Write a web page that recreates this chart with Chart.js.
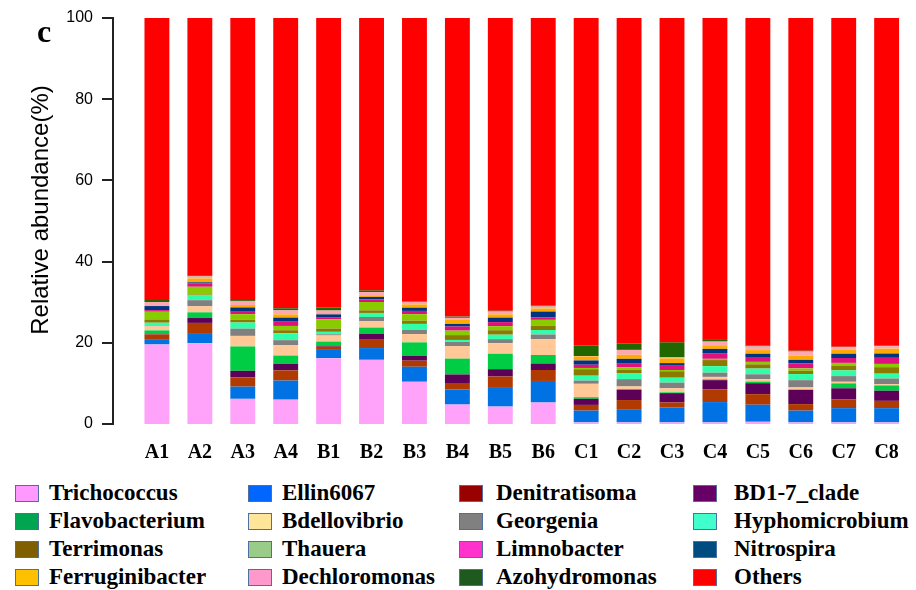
<!DOCTYPE html>
<html>
<head>
<meta charset="utf-8">
<script src="https://cdn.jsdelivr.net/npm/chart.js@4.4.1/dist/chart.umd.min.js"></script>
<style>
  html, body { margin: 0; background: #fff; overflow: hidden; }
  #wrap { position: relative; width: 916px; height: 590px; overflow: hidden; }
  #box { position: absolute; left: 0; top: 0; width: 916px; height: 470px; }
  #yaxis div { position: absolute; background: #222; }
  #panel { position: absolute; left: 37px; top: 15px; font: bold 32px/1 "Liberation Serif", serif; }
  #ytitle { position: absolute; left: 40px; top: 210px; transform: translate(-50%, -50%) rotate(-90deg);
    font: 24px/1.15 "Liberation Sans", sans-serif; white-space: nowrap; color: #000; }
  #legend { position: absolute; left: 15px; top: 479px; display: grid;
    grid-template-columns: 233px 211px 234px 200px; grid-auto-rows: 28px; }
  .item { display: flex; align-items: center; font: bold 23px "Liberation Serif", serif; color: #000; white-space: nowrap; }
  .swatch { flex: 0 0 auto; width: 22px; height: 15px; border: 1.5px solid #4f6fa0; margin-right: 10px; }
  .item:nth-child(4n+3) .swatch { margin-right: 13px; }
  .item:nth-child(4n) .swatch { margin-right: 17px; }
</style>
</head>
<body>
<div id="wrap">
  <div id="box"><canvas id="chart"></canvas><div id="yaxis"></div></div>
  <div id="panel">c</div>
  <div id="ytitle">Relative abundance(%)</div>
  <div id="legend"></div>
</div>
<script>
// samples
const samples = ['A1','A2','A3','A4','B1','B2','B3','B4','B5','B6','C1','C2','C3','C4','C5','C6','C7','C8'];

// relative abundance (%) per genus, stacked bottom to top
const trichococcus    = [19.6,19.9,6.2,6.0,16.2,15.8,10.4,4.8,4.3,5.3,0.4,0.4,0.4,0.4,0.55,0.4,0.4,0.4];
const ellin6067       = [1.3,2.5,3.0,4.7,2.05,2.9,3.7,3.7,4.8,5.3,2.9,3.1,3.7,5.0,4.2,2.9,3.5,3.5];
const denitratisoma   = [1.15,2.5,2.3,2.5,0.8,2.05,1.5,1.6,2.6,2.7,1.4,2.4,1.2,3.1,2.6,1.6,2.2,1.8];
const bd17Clade       = [0.1,1.2,1.6,1.6,0.25,1.5,1.2,2.1,1.8,1.6,1.5,2.5,2.3,2.3,2.7,3.5,2.7,2.5];
const flavobacterium  = [0.9,1.4,6.0,2.05,1.0,1.5,3.3,3.9,3.8,2.1,0.4,0.2,0.2,0.2,0.4,0.1,1.2,1.3];
const bdellovibrio    = [1.0,1.5,2.6,2.6,1.5,1.55,2.05,3.1,2.6,3.9,3.3,0.65,1.0,0.6,0.6,0.5,0.4,0.3];
const georgenia       = [0.1,1.5,1.8,1.2,0.3,1.05,1.0,1.0,1.0,1.15,0.8,1.8,1.4,1.05,1.2,1.8,1.4,1.4];
const hyphomicrobium  = [0.8,1.15,1.5,1.7,0.6,1.0,1.5,0.5,1.1,1.1,1.2,1.5,1.2,1.6,1.4,1.5,1.4,1.2];
const terrimonas      = [0.8,0.25,0.65,0.75,0.8,0.65,0.8,1.2,1.1,1.0,1.6,0.8,1.6,1.5,1.05,0.8,1.2,1.6];
const thauera         = [1.9,1.9,1.4,1.05,2.3,2.05,1.6,1.1,1.0,1.5,0.3,0.6,0.3,0.3,0.6,0.6,0.65,0.8];
const limnobacter     = [0.4,0.8,0.6,1.05,0.4,0.65,0.8,1.0,1.0,0.65,0.8,1.05,1.05,1.4,1.2,1.2,1.2,1.5];
const nitrospira      = [1.0,0.3,1.05,1.0,0.8,0.6,0.8,0.65,1.1,1.4,1.05,1.05,0.65,1.05,0.8,0.9,1.05,1.05];
const ferruginibacter = [0.2,0.95,0.6,0.8,0.3,0.4,0.8,1.0,0.8,0.75,1.0,1.0,1.15,0.9,0.9,1.0,1.0,1.2];
const dechloromonas   = [0.8,0.5,0.9,1.0,0.65,0.8,0.65,0.5,0.7,0.5,0.1,1.2,0.25,0.9,0.9,1.05,0.6,0.6];
const azohydromonas   = [0.5,0.3,0.3,0.5,0.75,0.4,0.2,0.3,0.2,0.15,2.5,1.5,3.7,0.6,0.25,0.2,0.1,0.1];
const others          = [69.45,63.35,69.5,71.5,71.3,67.1,69.7,73.55,72.1,70.9,80.75,80.25,79.9,79.1,80.65,81.95,81.0,80.75];

const yTicks = [0, 20, 40, 60, 80, 100];

// name, values, bar colour, legend colour
const series = [
  ['Trichococcus', trichococcus, '#ffa3fa', '#ff99ff'],
  ['Ellin6067', ellin6067, '#0072e3', '#0066ff'],
  ['Denitratisoma', denitratisoma, '#b03a00', '#990000'],
  ['BD1-7_clade', bd17Clade, '#5c0058', '#660066'],
  ['Flavobacterium', flavobacterium, '#00cc44', '#00a550'],
  ['Bdellovibrio', bdellovibrio, '#ffc896', '#ffe599'],
  ['Georgenia', georgenia, '#808080', '#808080'],
  ['Hyphomicrobium', hyphomicrobium, '#2effa8', '#40ffcc'],
  ['Terrimonas', terrimonas, '#8c7a00', '#7f5f00'],
  ['Thauera', thauera, '#88cc00', '#99cc88'],
  ['Limnobacter', limnobacter, '#e0107e', '#ff33cc'],
  ['Nitrospira', nitrospira, '#003380', '#004c80'],
  ['Ferruginibacter', ferruginibacter, '#ffaa00', '#ffc000'],
  ['Dechloromonas', dechloromonas, '#ffa8b4', '#ff99cc'],
  ['Azohydromonas', azohydromonas, '#226600', '#1e5a1e'],
  ['Others', others, '#ff0000', '#ff0000']
];

// bars sit at positions 1..n on a linear x axis, so the y axis keeps a gap like base R barplot
const positions = samples.map((s, i) => i + 1);

// y axis line with outward ticks, snapped to whole pixels
const yAxisLine = {
  id: 'yAxisLine',
  afterDraw(chart) {
    const y = chart.scales.y;
    const x = Math.round(chart.chartArea.left);
    const top = Math.round(y.getPixelForValue(yTicks[yTicks.length - 1]));
    const bottom = Math.round(y.getPixelForValue(yTicks[0]));
    const ctx = chart.ctx;
    ctx.save();
    ctx.fillStyle = '#222';
    ctx.fillRect(x - 2, top - 1, 2, bottom - top + 2);
    y.ticks.forEach(t => ctx.fillRect(x - 12, Math.round(y.getPixelForValue(t.value)) - 1, 12, 2));
    ctx.restore();

    // same marks as DOM as a fallback
    const holder = document.getElementById('yaxis');
    holder.innerHTML = '';
    const bar = (l, t, w, h) => {
      const d = document.createElement('div');
      d.style.cssText = 'left:' + l + 'px;top:' + t + 'px;width:' + w + 'px;height:' + h + 'px';
      holder.appendChild(d);
    };
    bar(x - 2, top - 1, 2, bottom - top + 2);
    y.ticks.forEach(t => bar(x - 12, Math.round(y.getPixelForValue(t.value)) - 1, 12, 2));
  }
};

new Chart(document.getElementById('chart'), {
  type: 'bar',
  data: {
    labels: positions,
    datasets: series.map(s => ({
      label: s[0],
      data: s[1],
      backgroundColor: s[2],
      borderWidth: 0,
      barPercentage: 0.58,
      categoryPercentage: 1
    }))
  },
  options: {
    responsive: true,
    maintainAspectRatio: false,
    animation: false,
    layout: { padding: { left: 0, right: 5.5, top: 0, bottom: 6 } },
    plugins: { legend: { display: false }, tooltip: { enabled: false } },
    scales: {
      x: {
        type: 'linear',
        stacked: true,
        offset: false,
        min: 0,
        max: samples.length + 0.5,
        afterBuildTicks: axis => { axis.ticks = positions.map(v => ({ value: v })); },
        afterFit: axis => { axis.height = 40; },
        grid: { display: false, drawTicks: false },
        border: { display: false },
        ticks: { color: '#000', padding: 17, maxRotation: 0, autoSkip: false,
          callback: v => samples[v - 1],
          font: { family: 'Liberation Serif', size: 20, weight: 'bold' } }
      },
      y: {
        stacked: true,
        min: 0,
        max: 100,
        afterBuildTicks: axis => { axis.ticks = yTicks.map(v => ({ value: v })); },
        afterFit: axis => { axis.width = 114; axis.paddingTop = 18; axis.paddingBottom = 0; },
        grid: { display: false, drawTicks: false },
        border: { display: false },
        ticks: { color: '#000', padding: 21, font: { family: 'Liberation Sans', size: 16 } }
      }
    }
  },
  plugins: [yAxisLine]
});

// legend in four columns, same order as the stack
const legend = document.getElementById('legend');
series.forEach(s => {
  const item = document.createElement('div');
  item.className = 'item';
  const sw = document.createElement('span');
  sw.className = 'swatch';
  sw.style.background = s[3];
  item.appendChild(sw);
  item.appendChild(document.createTextNode(s[0]));
  legend.appendChild(item);
});
</script>
</body>
</html>
